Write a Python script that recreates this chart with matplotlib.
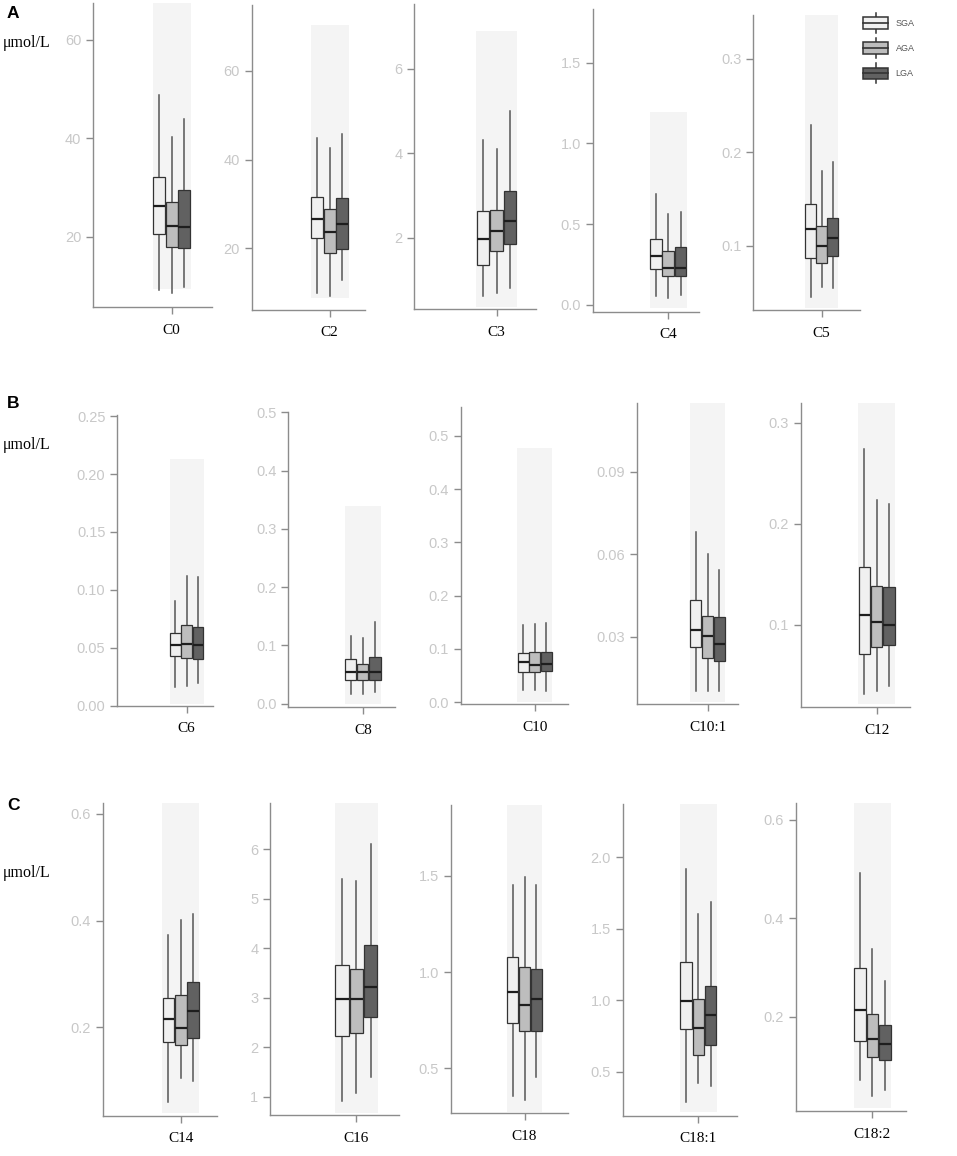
import matplotlib
matplotlib.use("Agg")
import matplotlib.pyplot as plt
from matplotlib.legend_handler import HandlerBase
from matplotlib.patches import Rectangle, Patch
from matplotlib.lines import Line2D

# ---------------- data ----------------
categories = ["C0", "C2", "C3", "C4", "C5",
              "C6", "C8", "C10", "C10:1", "C12",
              "C14", "C16", "C18", "C18:1", "C18:2"]
groups = ["SGA", "AGA", "LGA"]

whisker_low = {
    "SGA": [9.2, 10.0, 0.63, 0.054, 0.046, 0.016, 0.017, 0.023, 0.0103, 0.032, 0.060, 0.91, 0.356, 0.29, 0.072],
    "AGA": [8.5, 9.3, 0.70, 0.043, 0.056, 0.017, 0.017, 0.023, 0.0103, 0.035, 0.105, 1.07, 0.335, 0.42, 0.038],
    "LGA": [9.7, 13.0, 0.80, 0.062, 0.055, 0.020, 0.021, 0.021, 0.0103, 0.040, 0.099, 1.40, 0.456, 0.40, 0.051],
}
q1 = {
    "SGA": [20.5, 22.4, 1.35, 0.223, 0.087, 0.043, 0.041, 0.057, 0.0261, 0.071, 0.172, 2.23, 0.736, 0.80, 0.151],
    "AGA": [17.8, 18.9, 1.69, 0.176, 0.082, 0.041, 0.040, 0.056, 0.0221, 0.078, 0.166, 2.29, 0.692, 0.62, 0.118],
    "LGA": [17.6, 19.9, 1.85, 0.176, 0.089, 0.040, 0.040, 0.058, 0.0212, 0.080, 0.179, 2.61, 0.696, 0.69, 0.111],
}
median = {
    "SGA": [26.2, 26.6, 1.97, 0.300, 0.118, 0.052, 0.055, 0.076, 0.0324, 0.110, 0.215, 2.98, 0.895, 0.995, 0.214],
    "AGA": [22.2, 23.6, 2.16, 0.226, 0.100, 0.053, 0.054, 0.069, 0.0301, 0.103, 0.198, 2.97, 0.831, 0.804, 0.155],
    "LGA": [22.0, 25.6, 2.40, 0.229, 0.109, 0.052, 0.055, 0.072, 0.0272, 0.100, 0.230, 3.22, 0.859, 0.897, 0.145],
}
q3 = {
    "SGA": [32.2, 31.6, 2.62, 0.407, 0.145, 0.063, 0.076, 0.093, 0.0432, 0.157, 0.255, 3.67, 1.077, 1.268, 0.298],
    "AGA": [27.1, 28.8, 2.66, 0.333, 0.121, 0.070, 0.069, 0.094, 0.0374, 0.139, 0.261, 3.59, 1.027, 1.011, 0.206],
    "LGA": [29.4, 31.3, 3.11, 0.360, 0.130, 0.068, 0.080, 0.094, 0.0372, 0.138, 0.284, 4.07, 1.016, 1.100, 0.183],
}
whisker_high = {
    "SGA": [48.8, 44.9, 4.30, 0.684, 0.229, 0.090, 0.116, 0.145, 0.0681, 0.274, 0.373, 5.39, 1.452, 1.92, 0.492],
    "AGA": [40.3, 42.7, 4.09, 0.560, 0.180, 0.112, 0.113, 0.146, 0.0600, 0.224, 0.402, 5.35, 1.496, 1.60, 0.338],
    "LGA": [43.8, 45.8, 5.00, 0.573, 0.190, 0.111, 0.140, 0.148, 0.0541, 0.220, 0.412, 6.11, 1.453, 1.69, 0.273],
}

y_limits = [(5.7, 67.4), (6.2, 74.9), (0.305, 7.53), (-0.043, 1.833), (0.0317, 0.3465),
            (0.0, 0.251), (-0.006, 0.501), (-0.004, 0.5546), (0.0054, 0.1151), (0.0185, 0.3201),
            (0.0342, 0.62), (0.63, 6.94), (0.266, 1.869), (0.194, 2.372), (0.0085, 0.633)]

shade_ranges = [(9.4, 67.4), (8.9, 70.3), (0.37, 6.88), (-0.022, 1.195), (0.0335, 0.3465),
                (0.0017, 0.2127), (-0.001, 0.340), (0.0, 0.478), (0.0064, 0.1151), (0.0215, 0.3201),
                (0.0387, 0.62), (0.68, 6.94), (0.274, 1.869), (0.217, 2.372), (0.014, 0.633)]

ytick_values = [[20, 40, 60], [20, 40, 60], [2, 4, 6], [0.0, 0.5, 1.0, 1.5], [0.1, 0.2, 0.3],
                [0.0, 0.05, 0.10, 0.15, 0.20, 0.25], [0.0, 0.1, 0.2, 0.3, 0.4, 0.5],
                [0.0, 0.1, 0.2, 0.3, 0.4, 0.5], [0.03, 0.06, 0.09], [0.1, 0.2, 0.3],
                [0.2, 0.4, 0.6], [1, 2, 3, 4, 5, 6], [0.5, 1.0, 1.5], [0.5, 1.0, 1.5, 2.0], [0.2, 0.4, 0.6]]
ytick_labels = [["20", "40", "60"], ["20", "40", "60"], ["2", "4", "6"], ["0.0", "0.5", "1.0", "1.5"],
                ["0.1", "0.2", "0.3"],
                ["0.00", "0.05", "0.10", "0.15", "0.20", "0.25"], ["0.0", "0.1", "0.2", "0.3", "0.4", "0.5"],
                ["0.0", "0.1", "0.2", "0.3", "0.4", "0.5"], ["0.03", "0.06", "0.09"], ["0.1", "0.2", "0.3"],
                ["0.2", "0.4", "0.6"], ["1", "2", "3", "4", "5", "6"], ["0.5", "1.0", "1.5"],
                ["0.5", "1.0", "1.5", "2.0"], ["0.2", "0.4", "0.6"]]

row_letters = ["A", "B", "C"]
unit_label = "\u03bcmol/L"

# ---------------- layout (pixels) & style ----------------
W, H = 957, 1156
# left, right, top, bottom, group-centre, group-width
PANEL_PX = [
    (93.3, 212.0, 3.3, 307.0, 171.7, 38.0),
    (251.7, 365.0, 4.7, 309.7, 329.7, 38.0),
    (414.3, 535.7, 4.0, 309.3, 496.5, 40.7),
    (592.7, 699.3, 9.0, 311.7, 668.2, 37.0),
    (753.3, 860.0, 15.0, 310.0, 821.5, 33.0),
    (117.3, 213.3, 415.0, 705.7, 186.7, 34.0),
    (288.3, 395.0, 411.7, 707.3, 362.8, 36.3),
    (461.0, 567.7, 406.7, 704.3, 534.8, 35.0),
    (637.0, 737.7, 402.7, 704.3, 707.5, 35.0),
    (801.0, 910.0, 402.7, 707.3, 876.7, 36.7),
    (102.7, 216.7, 803.3, 1115.7, 180.8, 37.0),
    (270.3, 399.3, 802.7, 1115.0, 356.2, 43.0),
    (450.7, 567.7, 805.0, 1113.3, 524.5, 35.6),
    (622.7, 737.3, 804.0, 1115.7, 698.3, 36.7),
    (795.7, 905.7, 803.3, 1111.0, 872.4, 37.3),
]
ROW_TEXT_Y = [(13, 43), (404, 445), (805, 873)]

FILL = {"SGA": "#F0F0F0", "AGA": "#BDBDBD", "LGA": "#616161"}
EDGE = "#333333"
WHISK = "#555555"
SHADE = "#F4F4F4"
SPINE = "#8C8C8C"
TICKLAB = "#C8C8C8"
OFFSETS = [-1 / 3, 0.0, 1 / 3]
BOXW = 0.31

SANS = ["Liberation Sans", "DejaVu Sans"]
SERIF = ["Liberation Serif", "DejaVu Serif"]

fig = plt.figure(figsize=(W / 100, H / 100), dpi=100)

for i, cat in enumerate(categories):
    l, r, t, b, c, gw = PANEL_PX[i]
    ax = fig.add_axes([l / W, 1 - b / H, (r - l) / W, (b - t) / H])
    ax.set_xlim((l - c) / gw, (r - c) / gw)
    ax.set_ylim(*y_limits[i])
    sb, st = shade_ranges[i]
    ax.bar(0, st - sb, bottom=sb, width=1.0, color=SHADE, linewidth=0, zorder=0)
    stats = [dict(med=median[g][i], q1=q1[g][i], q3=q3[g][i],
                  whislo=whisker_low[g][i], whishi=whisker_high[g][i]) for g in groups]
    bp = ax.bxp(stats, positions=OFFSETS, widths=BOXW, patch_artist=True,
                showfliers=False, showcaps=False, manage_ticks=False,
                boxprops=dict(edgecolor=EDGE, linewidth=0.9),
                whiskerprops=dict(color=WHISK, linewidth=1.1),
                medianprops=dict(color="#1E1E1E", linewidth=1.6))
    for patch, g in zip(bp["boxes"], groups):
        patch.set_facecolor(FILL[g])
        patch.set_zorder(3)
    for m in bp["medians"]:
        m.set_zorder(4)
    for s in ("top", "right"):
        ax.spines[s].set_visible(False)
    for s in ("left", "bottom"):
        ax.spines[s].set_color(SPINE)
        ax.spines[s].set_linewidth(1.0)
    ax.set_facecolor("none")
    ax.set_xticks([0], [cat])
    ax.set_yticks(ytick_values[i], ytick_labels[i])
    ax.tick_params(axis="x", length=5, width=1.0, color=SPINE, pad=7)
    ax.tick_params(axis="y", length=5, width=1.0, color=SPINE, pad=3.5)
    for lab in ax.get_xticklabels():
        lab.set_fontfamily(SERIF)
        lab.set_fontsize(11)
        lab.set_color("black")
    for lab in ax.get_yticklabels():
        lab.set_fontfamily(SANS)
        lab.set_fontsize(10.5)
        lab.set_color(TICKLAB)

for letter, (ly, uy) in zip(row_letters, ROW_TEXT_Y):
    fig.text(7 / W, 1 - ly / H, letter, fontfamily=SANS, fontweight="bold",
             fontsize=12.5, ha="left", va="center")
    fig.text(3 / W, 1 - uy / H, unit_label, fontfamily=SERIF, fontsize=11.5,
             ha="left", va="center")


class BoxHandler(HandlerBase):
    def create_artists(self, legend, orig_handle, xdescent, ydescent,
                       width, height, fontsize, trans):
        fc = orig_handle.get_facecolor()
        bh = height * 0.59
        y0 = -ydescent
        by = y0 + (height - bh) / 2
        x0 = -xdescent
        wx = x0 + width / 2
        w1 = Line2D([wx, wx], [y0, by], color=EDGE, lw=1.1, transform=trans)
        w2 = Line2D([wx, wx], [by + bh, y0 + height], color=EDGE, lw=1.1, transform=trans)
        rect = Rectangle((x0, by), width, bh, facecolor=fc, edgecolor=EDGE, lw=1.1, transform=trans)
        med = Line2D([x0, x0 + width], [by + bh / 2] * 2, color=EDGE, lw=1.2, transform=trans)
        return [w1, w2, rect, med]


handles = [Patch(facecolor=FILL[g]) for g in groups]
leg = fig.legend(handles, groups, handler_map={Patch: BoxHandler()},
                 loc="upper left", bbox_to_anchor=(863 / W, 1 - 13 / H),
                 frameon=False, fontsize=6.5, borderpad=0, borderaxespad=0,
                 handlelength=2.77, handleheight=3.0, labelspacing=0.6,
                 handletextpad=0.85, prop={"family": SANS, "size": 6.5})
for txt in leg.get_texts():
    txt.set_color("#555555")

fig.savefig("out.png", dpi=100)
